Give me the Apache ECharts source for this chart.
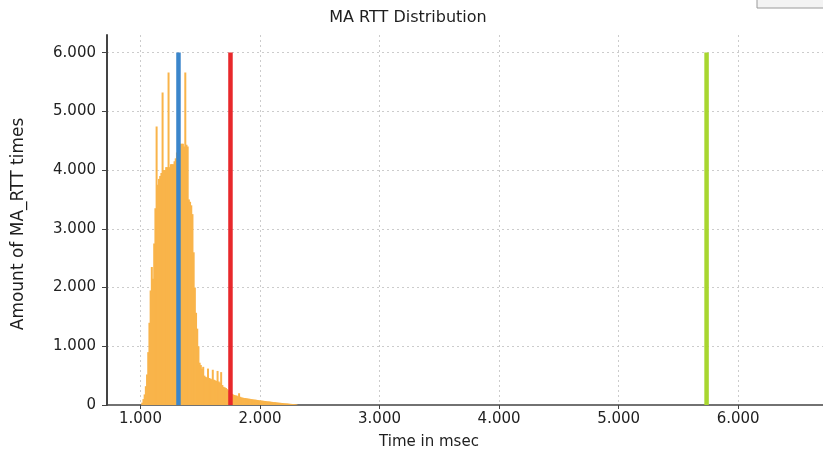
<!DOCTYPE html>
<html>
<head>
<meta charset="utf-8">
<script src="https://cdn.jsdelivr.net/npm/echarts@6/dist/echarts.min.js"></script>
<style>
html,body{margin:0;padding:0;background:#fff;}
#chart{width:823px;height:460px;}
</style>
</head>
<body>
<div id="chart"></div>
<script>
// Histogram bin start times (msec)
var binStarts = [
1010,1020,1030,1040,1050,1060,1070,1080,1090,1100,
1110,1120,1130,1140,1150,1160,1170,1180,1190,1200,
1210,1220,1230,1240,1250,1260,1270,1280,1290,1300,
1310,1320,1330,1340,1350,1360,1370,1380,1390,1400,
1410,1420,1430,1440,1450,1460,1470,1480,1490,1500,
1510,1520,1530,1540,1550,1560,1570,1580,1590,1600,
1610,1620,1630,1640,1650,1660,1670,1680,1690,1700,
1710,1720,1730,1740,1750,1760,1770,1780,1790,1800,
1810,1820,1830,1840,1850,1860,1870,1880,1890,1900,
1910,1920,1930,1940,1950,1960,1970,1980,1990,2000,
2010,2020,2030,2040,2050,2060,2070,2080,2090,2100,
2110,2120,2130,2140,2150,2160,2170,2180,2190,2200,
2210,2220,2230,2240,2250,2260,2270,2280,2290,2300
];
var binWidth = 10;
// Amount of MA_RTT times per bin
var counts = [
40,100,180,320,520,900,1400,1950,2350,2150,
2750,3350,4740,3750,3850,3900,3950,5320,4000,4000,
4050,4050,5660,4050,4100,4100,4100,4150,4200,4300,
5950,4400,4450,4450,4450,4400,5660,4430,4400,3500,
3460,3400,3250,2600,2000,1570,1300,1000,720,680,
620,650,500,480,470,620,460,450,440,600,
430,420,410,580,400,380,560,340,310,300,
290,270,250,230,210,190,180,170,165,160,
150,200,140,130,125,120,118,115,112,108,
105,100,98,95,92,90,86,83,80,78,
75,72,70,68,65,62,60,58,55,52,
50,48,45,43,40,38,36,34,32,30,
28,26,24,22,20,18,16,14,12,10
];
// Vertical marker lines (msec) and their height
var markerNames = ['blue', 'red', 'green'];
var markerTimes = [1318, 1753, 5736];
var markerColors = ['#3b86cb', '#e8282b', '#a8d630'];
var markerTop = 6000;
var xTicks = [1000, 2000, 3000, 4000, 5000, 6000];
var yTicks = [0, 1000, 2000, 3000, 4000, 5000, 6000];

function fmt(v) {
  return String(Math.round(v)).replace(/\B(?=(\d{3})+(?!\d))/g, '.');
}

var histData = binStarts.map(function (t, i) { return [t + binWidth / 2, counts[i]]; });

var series = [{
  type: 'bar',
  data: histData,
  barWidth: 2,
  itemStyle: { color: '#f9b44a' },
  silent: true,
  z: 2
}];
markerTimes.forEach(function (t, i) {
  series.push({
    type: 'line',
    name: markerNames[i],
    data: [[t, 0], [t, markerTop]],
    symbol: 'none',
    lineStyle: { color: markerColors[i], width: 4.5 },
    silent: true,
    z: 3
  });
});

var FONT = 'DejaVu Sans';
var chart = echarts.init(document.getElementById('chart'), null, { renderer: 'canvas' });
chart.setOption({
  animation: false,
  backgroundColor: '#ffffff',
  title: {
    text: 'MA RTT Distribution',
    left: 403, top: 5,
    textAlign: 'center',
    textStyle: { fontFamily: FONT, fontSize: 16, fontWeight: 'normal', color: '#1e1e1e' }
  },
  graphic: [{
    type: 'rect',
    shape: { x: 757, y: -3, width: 72, height: 11 },
    style: { fill: '#f3f3f3', stroke: '#9a9a9a', lineWidth: 1 }
  }],
  grid: { left: 107, right: 0, top: 35, bottom: 55, containLabel: false },
  xAxis: {
    type: 'value',
    min: 720, max: 6710,
    splitNumber: 6,
    name: 'Time in msec',
    nameLocation: 'middle',
    nameGap: 30,
    nameTextStyle: { fontFamily: FONT, fontSize: 15, color: '#1e1e1e', padding: [0, 72, 0, 0] },
    axisLine: { show: true, onZero: false, lineStyle: { color: '#444', width: 1.5 } },
    axisTick: { show: true, length: 4, lineStyle: { color: '#444' } },
    axisLabel: {
      showMinLabel: false, showMaxLabel: false,
      fontFamily: FONT, fontSize: 15, color: '#222', margin: 7,
      formatter: function (v) { return xTicks.indexOf(v) >= 0 ? fmt(v) : ''; }
    },
    splitLine: { show: true, showMinLine: false, showMaxLine: false, lineStyle: { color: '#cccccc', type: [2, 3], width: 1 } }
  },
  yAxis: {
    type: 'value',
    min: 0, max: 6300, interval: 1000,
    name: 'Amount of MA_RTT times',
    nameLocation: 'middle',
    nameGap: 80,
    nameTextStyle: { fontFamily: FONT, fontSize: 17, color: '#1e1e1e', padding: [0, 8, 0, 0] },
    axisLine: { show: true, lineStyle: { color: '#444', width: 2 } },
    axisTick: { show: true, length: 5, lineStyle: { color: '#444' } },
    axisLabel: {
      showMaxLabel: false,
      fontFamily: FONT, fontSize: 15, color: '#222', margin: 11,
      formatter: function (v) { return yTicks.indexOf(v) >= 0 ? fmt(v) : ''; }
    },
    splitLine: { show: true, showMinLine: false, showMaxLine: false, lineStyle: { color: '#cccccc', type: [2, 3], width: 1 } }
  },
  series: series
});
</script>
</body>
</html>
